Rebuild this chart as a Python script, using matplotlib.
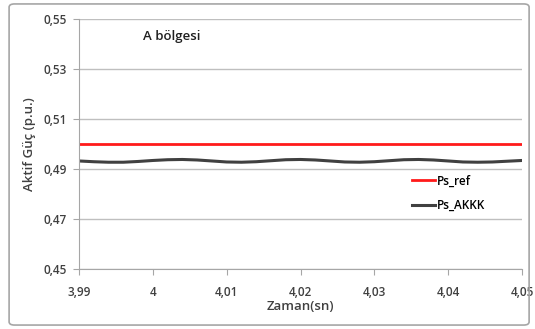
import numpy as np
import matplotlib.pyplot as plt
from matplotlib.patches import FancyBboxPatch
from matplotlib.ticker import FuncFormatter

plt.rcParams['font.family'] = ['Open Sans', 'DejaVu Sans']
plt.rcParams['font.weight'] = 'semibold'

# data
t = [3.990, 3.992, 3.994, 3.996, 3.998, 4.000, 4.002, 4.004, 4.006, 4.008,
     4.010, 4.012, 4.014, 4.016, 4.018, 4.020, 4.022, 4.024, 4.026, 4.028,
     4.030, 4.032, 4.034, 4.036, 4.038, 4.040, 4.042, 4.044, 4.046, 4.048, 4.050]
ps_akkk = [0.4932, 0.4929, 0.4927, 0.4927, 0.4930, 0.4934, 0.4937, 0.4938, 0.4936, 0.4932,
           0.4928, 0.4927, 0.4929, 0.4933, 0.4937, 0.4938, 0.4936, 0.4932, 0.4928, 0.4927,
           0.4929, 0.4933, 0.4937, 0.4938, 0.4936, 0.4932, 0.4928, 0.4927, 0.4928, 0.4931, 0.4934]
ps_ref = [0.50] * len(t)

xticks = [3.99, 4.00, 4.01, 4.02, 4.03, 4.04, 4.05]
yticks = [0.45, 0.47, 0.49, 0.51, 0.53, 0.55]

fig = plt.figure(figsize=(5.35, 3.29), dpi=100)
fig.patches.append(FancyBboxPatch((0.017, 0.012), 0.972, 0.976,
                                  boxstyle='round,pad=0,rounding_size=0.01',
                                  transform=fig.transFigure, fill=False,
                                  edgecolor='#a6a6a6', linewidth=1.2))
ax = fig.add_axes([0.1477, 0.1824, 0.828, 0.76])

ax.plot(t, ps_ref, color='#ff1a1a', lw=2.0, label='Ps_ref')
ax.plot(t, ps_akkk, color='#404040', lw=2.2, label='Ps_AKKK')

ax.set_xlim(3.99, 4.05)
ax.set_ylim(0.45, 0.55)
ax.set_xticks(xticks)
ax.set_yticks(yticks)

def comma(v, pos):
    s = ('%.2f' % v).rstrip('0').rstrip('.')
    return s.replace('.', ',')

ax.xaxis.set_major_formatter(FuncFormatter(comma))
ax.yaxis.set_major_formatter(FuncFormatter(comma))

ax.grid(axis='y', color='#bfbfbf', lw=1)
ax.set_axisbelow(True)
for s in ['top', 'right']:
    ax.spines[s].set_visible(False)
for s in ['left', 'bottom']:
    ax.spines[s].set_color('#a6a6a6')
ax.tick_params(colors='#a6a6a6', labelcolor='#404040', labelsize=8.5, length=4)
ax.tick_params(axis='x', pad=8)
ax.tick_params(axis='y', pad=5)
for lab in ax.get_xticklabels() + ax.get_yticklabels():
    lab.set_fontweight('semibold')

ax.set_xlabel('Zaman(sn)', fontsize=9.5, color='#404040', labelpad=1, fontweight='semibold')
ax.set_ylabel('Aktif Güç (p.u.)', fontsize=9.5, color='#404040', labelpad=5, fontweight='semibold')
ax.text(0.1445, 0.928, 'A bölgesi', transform=ax.transAxes, fontsize=9.5,
        color='#202020', va='center')

ax.legend(loc='upper left', bbox_to_anchor=(0.727, 0.42), frameon=False,
          fontsize=8.5, handlelength=2.0, labelspacing=0.95, handletextpad=0.1)

fig.savefig('out.png', dpi=100)
